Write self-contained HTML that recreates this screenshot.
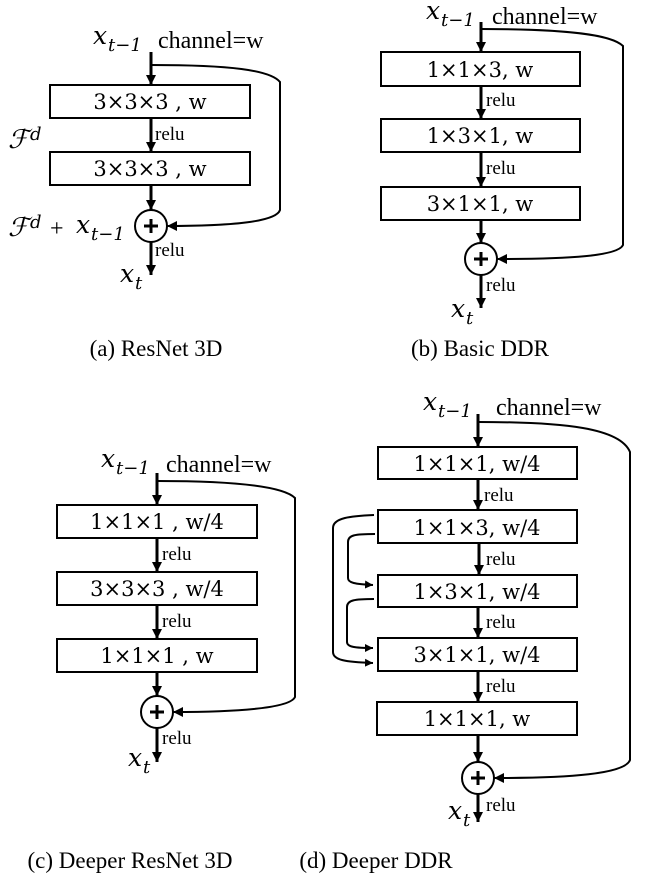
<!DOCTYPE html>
<html><head><meta charset="utf-8"><style>
html,body{margin:0;padding:0;background:#fff}
svg{display:block}
text{font-family:"Liberation Serif",serif;fill:#000}
.b{font-family:"DejaVu Serif","Liberation Serif",serif;font-size:21px}
.r{font-size:19px}
.m{font-family:"DejaVu Serif","Liberation Serif",serif;font-style:italic;font-size:25px}
.s{font-family:"DejaVu Serif","Liberation Serif",serif;font-style:italic;font-size:18px}
.c{font-size:24px}
.cap{font-size:23px}
.f{font-family:"DejaVu Serif",serif;font-style:italic;font-size:26px}
</style></head><body>
<svg width="665" height="886" viewBox="0 0 665 886" xmlns="http://www.w3.org/2000/svg">
<defs>
<marker id="a" viewBox="0 0 10 10" refX="10" refY="5" markerWidth="10" markerHeight="10" markerUnits="userSpaceOnUse" orient="auto"><path d="M0,0 L10,5 L0,10 z" fill="#000"/></marker>
<marker id="t" viewBox="0 0 10 10" refX="10" refY="5" markerWidth="8" markerHeight="9" markerUnits="userSpaceOnUse" orient="auto"><path d="M0,0 L10,5 L0,10 z" fill="#000"/></marker>
</defs>
<g stroke="#000" fill="none">
<!-- (a) -->
<line x1="151" y1="52" x2="151" y2="85" stroke-width="3" marker-end="url(#a)"/>
<rect x="50" y="85" width="200" height="33" stroke-width="2"/>
<line x1="151" y1="118" x2="151" y2="152" stroke-width="3" marker-end="url(#a)"/>
<rect x="50" y="152" width="200" height="33" stroke-width="2"/>
<line x1="151" y1="185" x2="151" y2="210" stroke-width="3" marker-end="url(#a)"/>
<circle cx="151" cy="226" r="16" stroke-width="2"/>
<line x1="151" y1="242" x2="151" y2="275" stroke-width="3" marker-end="url(#a)"/>
<path d="M151,65 C230,65 270,70 280,82 L280,210 C276,222 230,226 167,226" stroke-width="2" marker-end="url(#a)"/>
<!-- (b) -->
<line x1="481" y1="22" x2="481" y2="52" stroke-width="3" marker-end="url(#a)"/>
<rect x="381" y="52" width="199" height="34" stroke-width="2"/>
<line x1="481" y1="86" x2="481" y2="119" stroke-width="3" marker-end="url(#a)"/>
<rect x="381" y="119" width="199" height="33" stroke-width="2"/>
<line x1="481" y1="152" x2="481" y2="187" stroke-width="3" marker-end="url(#a)"/>
<rect x="381" y="187" width="199" height="33" stroke-width="2"/>
<line x1="481" y1="220" x2="481" y2="243" stroke-width="3" marker-end="url(#a)"/>
<circle cx="481" cy="259" r="16" stroke-width="2"/>
<line x1="481" y1="275" x2="481" y2="308" stroke-width="3" marker-end="url(#a)"/>
<path d="M481,29 C570,29 612,35 623,46 L623,245 C618,256 570,259 497,259" stroke-width="2" marker-end="url(#a)"/>
<!-- (c) -->
<line x1="157" y1="473" x2="157" y2="505" stroke-width="3" marker-end="url(#a)"/>
<rect x="57" y="505" width="200" height="33" stroke-width="2"/>
<line x1="157" y1="538" x2="157" y2="572" stroke-width="3" marker-end="url(#a)"/>
<rect x="57" y="572" width="200" height="33" stroke-width="2"/>
<line x1="157" y1="605" x2="157" y2="639" stroke-width="3" marker-end="url(#a)"/>
<rect x="57" y="639" width="200" height="33" stroke-width="2"/>
<line x1="157" y1="672" x2="157" y2="696" stroke-width="3" marker-end="url(#a)"/>
<circle cx="157" cy="712" r="16" stroke-width="2"/>
<line x1="157" y1="728" x2="157" y2="762" stroke-width="3" marker-end="url(#a)"/>
<path d="M157,481 C240,481 284,487 295,498 L295,697 C290,708 240,712 173,712" stroke-width="2" marker-end="url(#a)"/>
<!-- (d) -->
<line x1="478" y1="414" x2="478" y2="447" stroke-width="3" marker-end="url(#a)"/>
<rect x="378" y="447" width="199" height="32" stroke-width="2"/>
<line x1="478" y1="479" x2="478" y2="510" stroke-width="3" marker-end="url(#a)"/>
<rect x="378" y="510" width="199" height="33" stroke-width="2"/>
<line x1="479" y1="543" x2="479" y2="575" stroke-width="3" marker-end="url(#a)"/>
<rect x="378" y="575" width="199" height="32" stroke-width="2"/>
<line x1="478" y1="607" x2="478" y2="638" stroke-width="3" marker-end="url(#a)"/>
<rect x="378" y="638" width="199" height="33" stroke-width="2"/>
<line x1="478" y1="671" x2="478" y2="702" stroke-width="3" marker-end="url(#a)"/>
<rect x="377" y="702" width="200" height="33" stroke-width="2"/>
<line x1="478" y1="735" x2="478" y2="762" stroke-width="3" marker-end="url(#a)"/>
<circle cx="478" cy="778" r="16" stroke-width="2"/>
<line x1="478" y1="794" x2="478" y2="822" stroke-width="3" marker-end="url(#a)"/>
<path d="M478,422 C565,422 620,428 630,452 L630,760 C625,774 570,778 494,778" stroke-width="2" marker-end="url(#a)"/>
<path d="M374,515 C350,516 333,518 333,528 L333,652 C333,660 345,662 373,663" stroke-width="2" marker-end="url(#t)"/>
<path d="M375,534 C355,534 348,535 348,542 L348,578 C348,583 355,584 373,585" stroke-width="2" marker-end="url(#t)"/>
<path d="M374,599 C355,599 347,600 347,607 L347,642 C347,647 355,648 373,648" stroke-width="2" marker-end="url(#t)"/>
</g>
<g fill="#000">
<rect x="144" y="224.5" width="14" height="3"/><rect x="149.5" y="219" width="3" height="14"/>
<rect x="474" y="257.5" width="14" height="3"/><rect x="479.5" y="252" width="3" height="14"/>
<rect x="150" y="710.5" width="14" height="3"/><rect x="155.5" y="705" width="3" height="14"/>
<rect x="471" y="776.5" width="14" height="3"/><rect x="476.5" y="771" width="3" height="14"/>
</g>
<!-- texts (a) -->
<text x="93" y="44" class="m">x</text><text x="108" y="51" class="s">t−1</text>
<text x="158" y="48" class="c">channel=w</text>
<text x="150" y="109" class="b" text-anchor="middle">3×3×3 , w</text>
<text x="155" y="140" class="r">relu</text>
<text x="150" y="176" class="b" text-anchor="middle">3×3×3 , w</text>
<text x="155" y="256" class="r">relu</text>
<text x="120" y="282" class="m">x</text><text x="135" y="289" class="s">t</text>
<text x="8" y="148" class="f">ℱ</text><text x="30" y="140" class="s">d</text>
<text x="8" y="236" class="f">ℱ</text><text x="30" y="228" class="s">d</text>
<text x="50" y="236" class="c">+</text><text x="76" y="233" class="m">x</text><text x="91" y="240" class="s">t−1</text>
<text x="156" y="356" class="cap" text-anchor="middle">(a) ResNet 3D</text>
<!-- (b) -->
<text x="426" y="19" class="m">x</text><text x="441" y="26" class="s">t−1</text>
<text x="492" y="24" class="c">channel=w</text>
<text x="480" y="77" class="b" text-anchor="middle">1×1×3, w</text>
<text x="486" y="106" class="r">relu</text>
<text x="480" y="143" class="b" text-anchor="middle">1×3×1, w</text>
<text x="486" y="174" class="r">relu</text>
<text x="480" y="211" class="b" text-anchor="middle">3×1×1, w</text>
<text x="486" y="291" class="r">relu</text>
<text x="451" y="317" class="m">x</text><text x="466" y="324" class="s">t</text>
<text x="480" y="356" class="cap" text-anchor="middle">(b) Basic DDR</text>
<!-- (c) -->
<text x="101" y="467" class="m">x</text><text x="116" y="474" class="s">t−1</text>
<text x="166" y="472" class="c">channel=w</text>
<text x="157" y="529" class="b" text-anchor="middle">1×1×1 , w/4</text>
<text x="162" y="560" class="r">relu</text>
<text x="157" y="596" class="b" text-anchor="middle">3×3×3 , w/4</text>
<text x="162" y="627" class="r">relu</text>
<text x="157" y="663" class="b" text-anchor="middle">1×1×1 , w</text>
<text x="162" y="744" class="r">relu</text>
<text x="128" y="766" class="m">x</text><text x="143" y="773" class="s">t</text>
<text x="130" y="868" class="cap" text-anchor="middle">(c) Deeper ResNet 3D</text>
<!-- (d) -->
<text x="423" y="410" class="m">x</text><text x="438" y="417" class="s">t−1</text>
<text x="496" y="415" class="c">channel=w</text>
<text x="477" y="471" class="b" text-anchor="middle">1×1×1, w/4</text>
<text x="484" y="501" class="r">relu</text>
<text x="477" y="535" class="b" text-anchor="middle">1×1×3, w/4</text>
<text x="486" y="565" class="r">relu</text>
<text x="477" y="599" class="b" text-anchor="middle">1×3×1, w/4</text>
<text x="486" y="628" class="r">relu</text>
<text x="477" y="662" class="b" text-anchor="middle">3×1×1, w/4</text>
<text x="486" y="692" class="r">relu</text>
<text x="477" y="726" class="b" text-anchor="middle">1×1×1, w</text>
<text x="486" y="811" class="r">relu</text>
<text x="448" y="819" class="m">x</text><text x="463" y="826" class="s">t</text>
<text x="376" y="868" class="cap" text-anchor="middle">(d) Deeper DDR</text>
</svg>
</body></html>
